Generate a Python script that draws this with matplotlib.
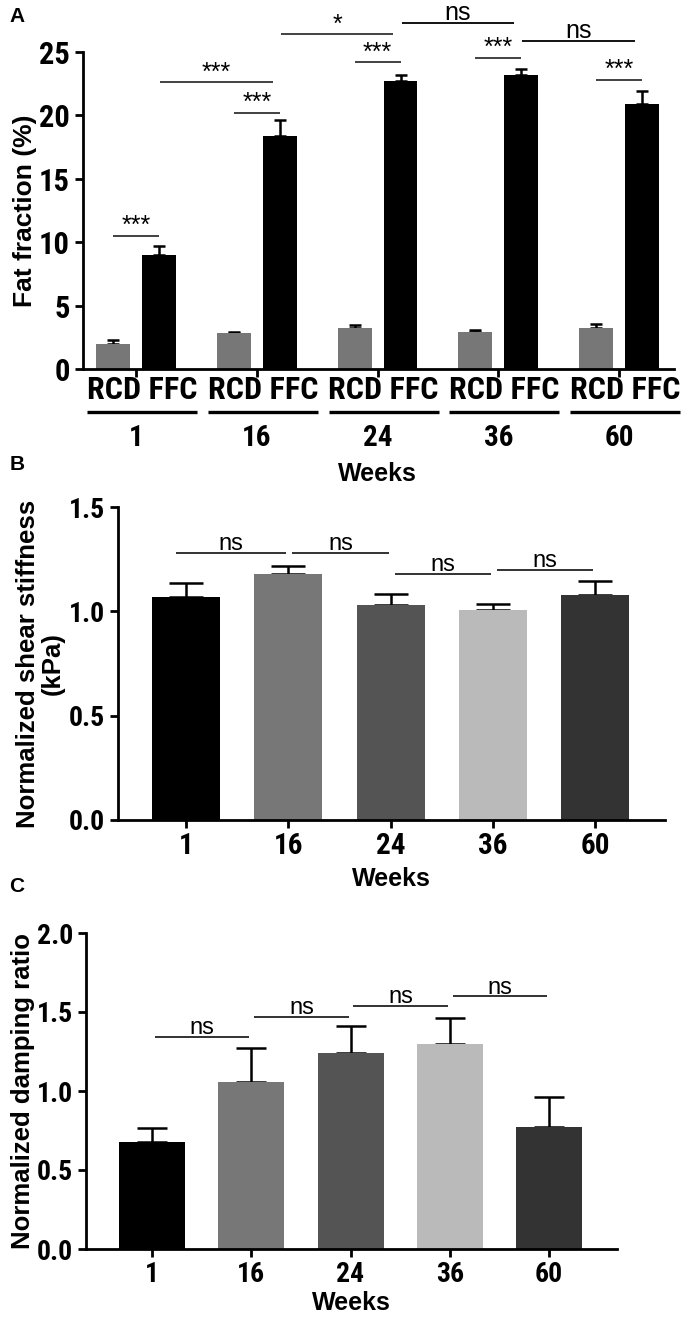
import matplotlib
matplotlib.use("Agg")
import matplotlib.pyplot as plt
from matplotlib import font_manager as fm
import numpy as np

# police etroite type "Arial Narrow" pour les graduations, Arial-like pour le reste
bold_fams = {f.name for f in fm.fontManager.ttflist if f.weight in (700, "bold")}
NARROW = next((n for n in ["Liberation Sans Narrow", "Roboto Condensed", "Barlow Semi Condensed",
                           "IBM Plex Sans Condensed", "Asap Condensed"] if n in bold_fams), "DejaVu Sans")
ARIAL = "Liberation Sans"

weeks = ["1", "16", "24", "36", "60"]

# panel A : fat fraction (%)
rcd = [2.0, 2.8, 3.2, 2.9, 3.25]
rcd_err = [0.3, 0.08, 0.25, 0.2, 0.3]
ffc = [9.0, 18.4, 22.7, 23.15, 20.9]
ffc_err = [0.7, 1.2, 0.5, 0.5, 1.0]
# (barre de depart, barre d'arrivee, hauteur, label) ; barres : ("r"/"f", groupe)
sig_a = [(("r", 0), ("f", 0), 10.5, "***"),
         (("f", 0), ("f", 1), 22.6, "***"),
         (("r", 1), ("f", 1), 20.2, "***"),
         (("f", 1), ("f", 2), 26.4, "*"),
         (("r", 2), ("f", 2), 24.2, "***"),
         (("f", 2), ("f", 3), 27.3, "ns"),
         (("r", 3), ("f", 3), 24.55, "***"),
         (("f", 3), ("f", 4), 25.9, "ns"),
         (("r", 4), ("f", 4), 22.8, "***")]

# panel B : normalized shear stiffness
shear = [1.07, 1.18, 1.03, 1.005, 1.08]
shear_err = [0.067, 0.035, 0.053, 0.028, 0.065]
sig_b = [(0, 1, 1.28), (1, 2, 1.28), (2, 3, 1.178), (3, 4, 1.20)]

# panel C : normalized damping ratio
damp = [0.68, 1.06, 1.24, 1.295, 0.773]
damp_err = [0.088, 0.209, 0.171, 0.169, 0.19]
sig_c = [(0, 1, 1.342), (1, 2, 1.469), (2, 3, 1.538), (3, 4, 1.599)]

grays = ["#000000", "#777777", "#545454", "#bababa", "#333333"]

W, H = 698, 1327
fig = plt.figure(figsize=(W / 100, H / 100), dpi=100)


def pos(l, r, t, b):
    return [l / W, 1 - b / H, (r - l) / W, (b - t) / H]


def style(ax):
    for s in ["top", "right"]:
        ax.spines[s].set_visible(False)
    for s in ["left", "bottom"]:
        ax.spines[s].set_linewidth(2.0)
    ax.tick_params(width=2.0, length=6, direction="out")
    for lab in ax.get_yticklabels() + ax.get_xticklabels():
        lab.set_fontfamily(NARROW)
        lab.set_fontweight("bold")


def bracket(ax, x1, x2, y, label, size=17, lw=1.3, color="#222222", pad=2):
    ax.plot([x1, x2], [y, y], color=color, lw=lw, clip_on=False, solid_capstyle="butt")
    ax.annotate(label, ((x1 + x2) / 2, y), xytext=(0, pad), textcoords="offset points",
                ha="center", va="baseline", fontsize=size, family=ARIAL, annotation_clip=False)


# ---------- A ----------
axA = fig.add_axes(pos(83, 674, 52, 369))
x = np.arange(len(weeks))
off, bw = 0.19, 0.28
err_kw = dict(elinewidth=1.8, capthick=1.8, ecolor="black")
axA.bar(x - off, rcd, bw, color="#777777", zorder=2)
axA.errorbar(x - off, rcd, yerr=[np.zeros(5), rcd_err], fmt="none", capsize=4.5, zorder=1, **err_kw)
axA.bar(x + off, ffc, bw, color="black", zorder=2)
axA.errorbar(x + off, ffc, yerr=[np.zeros(5), ffc_err], fmt="none", capsize=4.5, zorder=1, **err_kw)
axA.set_xlim(-0.44, 4.455)
axA.set_ylim(0, 25)
axA.set_yticks([0, 5, 10, 15, 20, 25])
axA.set_xticks(x)
axA.set_xticklabels([])
axA.tick_params(axis="y", labelsize=22)
axA.tick_params(axis="x", length=7)
style(axA)
axA.set_ylabel("Fat fraction (%)", fontsize=19, fontweight="bold", family=ARIAL, labelpad=1)
tr = axA.get_xaxis_transform()
for i, w in enumerate(weeks):
    axA.text(i + 0.05, -0.066, "RCD FFC", transform=tr, ha="center", va="center",
             fontsize=23, fontweight="bold", family=NARROW)
    axA.plot([i - 0.405, i + 0.505], [-0.136, -0.136], transform=tr, color="black",
             lw=2.4, clip_on=False, solid_capstyle="butt")
    axA.text(i, -0.217, w, transform=tr, ha="center", va="center",
             fontsize=21, fontweight="bold", family=NARROW)
axA.text(2.0, -0.33, "Weeks", transform=tr, ha="center", va="center",
         fontsize=18, fontweight="bold", family=ARIAL)
bar_x = {"r": -off, "f": off}
for (ga, ia), (gb, ib), y, lab in sig_a:
    xa, xb = ia + bar_x[ga], ib + bar_x[gb]
    if ga == gb:
        xa, xb = xa + 0.01, xb - 0.06
    bracket(axA, xa, xb, y, lab, size=18,
            color="black" if lab == "ns" else "#333333")

# ---------- B ----------
axB = fig.add_axes(pos(118, 665, 507, 820))
axB.bar(x, shear, 0.665, color=grays, zorder=2)
axB.errorbar(x, shear, yerr=[np.zeros(5), shear_err], fmt="none", capsize=12, zorder=1, **err_kw)
axB.set_xlim(-0.665, 4.68)
axB.set_ylim(0, 1.5)
axB.set_yticks([0.0, 0.5, 1.0, 1.5])
axB.set_yticklabels(["0.0", "0.5", "1.0", "1.5"])
axB.set_xticks(x)
axB.set_xticklabels(weeks)
axB.tick_params(axis="y", labelsize=20)
axB.tick_params(axis="x", labelsize=21, length=7, pad=3)
style(axB)
axB.set_ylabel("Normalized shear stiffness\n(kPa)", fontsize=18.5, fontweight="bold", family=ARIAL,
               labelpad=3, linespacing=1.0)
axB.set_xlabel("Weeks", fontsize=18, fontweight="bold", family=ARIAL, labelpad=5)
for a, b, y in sig_b:
    bracket(axB, a - 0.1 if a == 0 else a + 0.04, b - 0.02, y, "ns", size=17, color="#222222")

# ---------- C ----------
axC = fig.add_axes(pos(86, 617, 933, 1249))
axC.bar(x, damp, 0.665, color=grays, zorder=2)
axC.errorbar(x, damp, yerr=[np.zeros(5), damp_err], fmt="none", capsize=11, zorder=1, **err_kw)
axC.set_xlim(-0.665, 4.685)
axC.set_ylim(0, 2.0)
axC.set_yticks([0.0, 0.5, 1.0, 1.5, 2.0])
axC.set_yticklabels(["0.0", "0.5", "1.0", "1.5", "2.0"])
axC.set_xticks(x)
axC.set_xticklabels(weeks)
axC.tick_params(axis="y", labelsize=20)
axC.tick_params(axis="x", labelsize=20, length=7, pad=3)
style(axC)
axC.set_ylabel("Normalized damping ratio", fontsize=18.5, fontweight="bold", family=ARIAL, labelpad=1)
axC.set_xlabel("Weeks", fontsize=18, fontweight="bold", family=ARIAL, labelpad=2)
for a, b, y in sig_c:
    bracket(axC, a + 0.03, b - 0.02, y, "ns", size=17, color="#222222")

for lab, yy in [("A", 17), ("B", 465), ("C", 887)]:
    fig.text(17 / W, 1 - yy / H, lab, ha="center", va="center", fontsize=15,
             fontweight="bold", family=ARIAL)

fig.savefig("out.png", dpi=100)
